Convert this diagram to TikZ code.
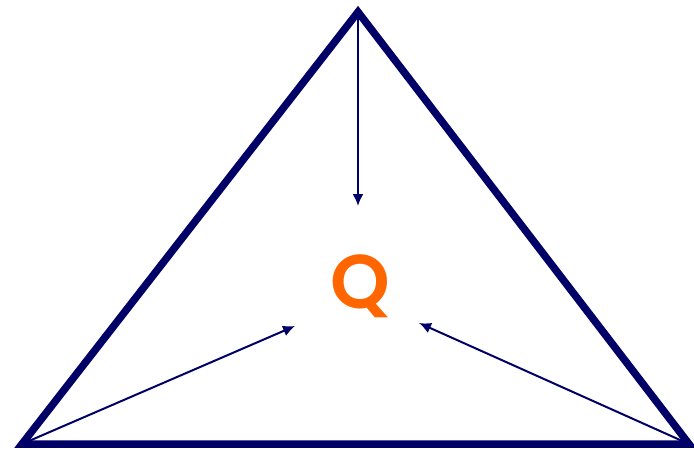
\documentclass[tikz,border=0pt]{standalone}
\usepackage{fontspec}
\newfontfamily\qfont{Poppins}[UprightFont=* SemiBold]
\usepackage{xcolor}
\usepackage{tikz}
\usetikzlibrary{calc, positioning, arrows.meta}

\definecolor{navy}{HTML}{000066}
\definecolor{qorange}{HTML}{FF6600}

\begin{document}
\begin{tikzpicture}[x=1pt, y=-1pt, pull/.style={-{Latex[length=12pt, width=11pt]}, navy, line width=2pt}]
    \useasboundingbox (0,0) rectangle (694,452);
    % 1. Các đỉnh tam giác
    \coordinate (top) at (358,12);
    \coordinate (left) at (22,444);
    \coordinate (right) at (689,444);
    \draw[navy, line width=7.5pt, line join=miter] (top) -- (left) -- (right) -- cycle;

    % 2. Điểm Q
    \node[text=qorange, font=\qfont\fontsize{76}{76}\selectfont, inner sep=0pt] (Q) at (360,286) {Q};

    % 3. Các mũi tên
    \coordinate (topend) at (358,206);
    \coordinate (leftend) at (295,326);
    \coordinate (rightend) at (419,323);
    \draw[pull] (top) -- (topend);
    \draw[pull] (left) -- (leftend);
    \draw[pull] (right) -- (rightend);
\end{tikzpicture}
\end{document}
